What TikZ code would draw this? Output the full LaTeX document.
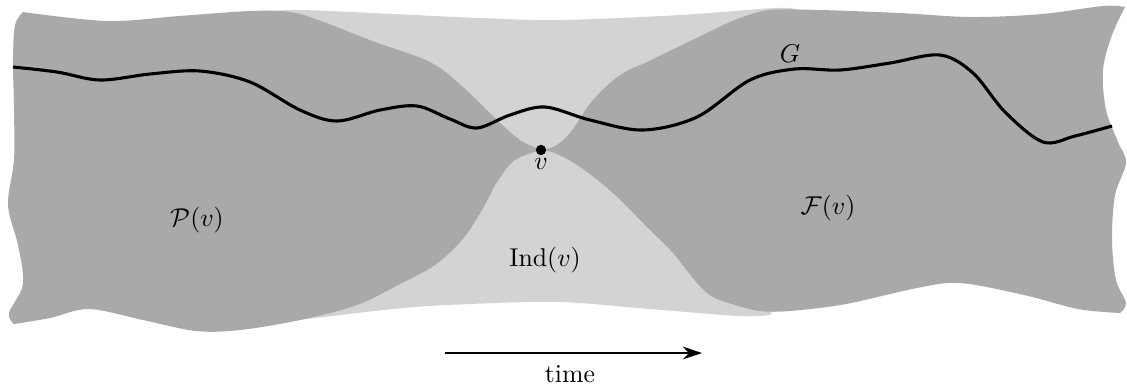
\documentclass[tikz,border=0pt]{standalone}
\usepackage{amsmath}
\usepackage{amssymb}
\usepackage{xcolor}
\usepackage{tikz}
\usetikzlibrary{positioning, arrows.meta}
\definecolor{conegray}{HTML}{A9A9A9}
\definecolor{indgray}{HTML}{D3D3D3}
\definecolor{ink}{HTML}{000000}
\tikzset{
  cone/.style     = {fill=conegray, draw=none},
  indep/.style    = {fill=indgray, draw=none},
  worldline/.style= {line width=1.2pt, draw=ink, line join=round},
  event/.style    = {circle, fill=ink, inner sep=0pt, minimum size=4pt},
  lbl/.style      = {inner sep=1pt, font=\normalsize},
  ar/.style       = {-{Stealth[length=7.5pt,width=5pt]}, thick, draw=ink},
  curvy/.style    = {smooth, tension=0.55},
}

\begin{document}
\begin{tikzpicture}[x=0.388pt, y=-0.388pt]

  \useasboundingbox (0,0) rectangle (1127,387);

  % independent region
  \fill[indep] plot[curvy] coordinates
      {(260,12) (300,10) (393,14) (480,18) (560,20) (680,15) (774,8) (795,9)}
    -- (850,150) -- (770,315)
    -- plot[curvy] coordinates
      {(770,315) (739,316) (650,309) (560,302) (470,304) (393,309) (250,326)}
    -- (300,150) -- cycle;

  % past
  \fill[cone] plot[curvy] coordinates
      {(23,12) (107,21) (179,16) (250,11) (290,12) (321,21) (375,42)
       (430,62) (463,87) (497,120) (520,140) (541,150)}
    -- plot[curvy] coordinates
      {(541,150) (515,160) (497,182) (482,210) (462,240) (435,265)
       (400,284) (357,305) (300,320) (240,330) (196,331) (143,320)
       (89,309) (50,318) (14,324)}
    -- plot[curvy] coordinates
      {(14,324) (9,313) (23,284) (18,245) (8,205) (14,160) (14,110)
       (13,60) (15,25) (23,12)}
    -- cycle;

  % future
  \fill[cone] plot[curvy] coordinates
      {(541,150) (555,146) (570,133) (593,100) (620,75) (649,61) (680,46)
       (713,30) (740,18) (770,10) (820,10) (900,13) (971,17) (1042,14)
       (1103,6) (1125,7)}
    -- plot[curvy] coordinates
      {(1125,7) (1112,35) (1103,70) (1106,110) (1118,142) (1126,163)
       (1115,195) (1112,240) (1116,280) (1126,303) (1120,313)}
    -- plot[curvy] coordinates
      {(1120,313) (1078,309) (1024,295) (960,283) (917,288) (846,304)
       (790,311) (760,311) (735,305) (713,297) (697,283) (673,253)
       (647,227) (613,193) (580,167) (555,153) (541,150)}
    -- cycle;

  % world line G
  \draw[worldline] plot[curvy] coordinates
      {(13,67) (57,72) (100,80) (150,74) (200,71) (250,82) (300,110)
       (337,121) (380,110) (417,106) (450,119) (477,128) (510,115)
       (545,107) (590,120) (643,130) (697,117) (750,80) (795,69) (840,70)
       (890,63) (940,55) (973,73) (1005,112) (1043,142) (1075,136)
       (1112,126)};

  \node[event] (v) at (541,150) {};
  \node[lbl, below=0pt of v] (vlbl) {$v$};
  \node[lbl] (glbl) at (790,54) {$G$};
  \node[lbl] (past) at (197,220) {$\mathcal{P}(v)$};
  \node[lbl] (fut) at (828,208) {$\mathcal{F}(v)$};
  \node[lbl] (ind) at (545,260) {$\operatorname{Ind}(v)$};

  \coordinate (tstart) at (445,353);
  \coordinate (tend) at (702,353);
  \draw[ar] (tstart) -- (tend);
  \node[lbl] (tlbl) at (570,374) {time};

\end{tikzpicture}
\end{document}
